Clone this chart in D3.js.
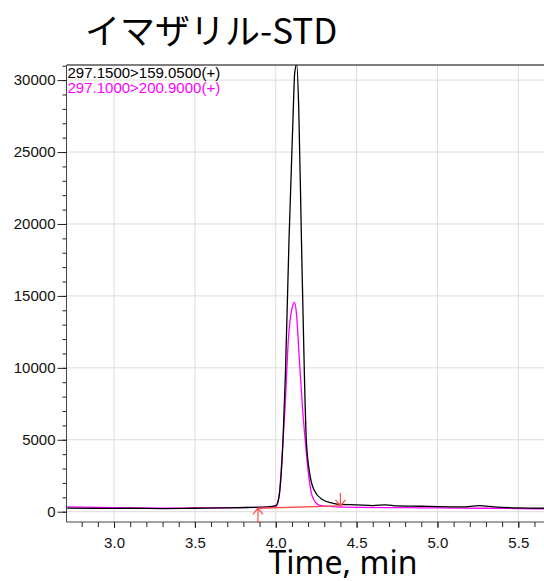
<!DOCTYPE html>
<html>
<head>
<meta charset="utf-8">
<script src="https://cdnjs.cloudflare.com/ajax/libs/d3/7.8.5/d3.min.js"></script>
<style>
	body{margin:0;background:#fff;}
	svg{display:block;}
</style>
</head>
<body>
<svg width="544" height="581"></svg>
<script>
//chart text
var title = "イマザリル-STD";
var xTitle = "Time, min";
var legendLabels = ["297.1500>159.0500(+)","297.1000>200.9000(+)"];
var seriesColors = ["#000000","#ff00ff"];

//ticks
var yTicks = [0,5000,10000,15000,20000,25000,30000];
var xTicks = [3.0,3.5,4.0,4.5,5.0,5.5];

//trace 1 (black)
var blackTime = [2.71,2.9,3.1,3.3,3.5,3.7,3.85,3.95,4.0,4.02,4.045,4.06,4.082,4.109,4.117,4.13,4.142,4.159,4.177,4.189,4.21,4.237,4.288,4.35,4.4,4.5,4.6,4.68,4.75,4.9,5.0,5.15,5.26,5.35,5.5,5.66];
var blackInt = [250,230,240,220,240,260,300,330,420,1040,4980,9620,18880,28145,30465,31100,28145,18880,9620,4980,2670,1510,850,600,500,480,430,480,400,380,350,330,420,330,260,240];

//trace 2 (magenta)
var pinkTime = [2.71,2.9,3.1,3.3,3.5,3.7,3.9,4.0,4.02,4.039,4.058,4.078,4.103,4.117,4.128,4.145,4.165,4.182,4.202,4.227,4.268,4.35,4.5,4.8,5.0,5.3,5.5,5.66];
var pinkInt = [330,300,260,240,260,280,300,340,1000,3820,7300,11930,14250,14550,13790,10770,7300,4980,2670,1040,465,350,300,280,260,240,220,200];

//integration baseline (start, end)
var baseTime = [3.89,4.40];
var baseInt = [240,400];

var chart = {left:66.5, right:544, top:65, bottom:522};
var svg = d3.select('svg');
var tickFont = '"Liberation Sans",Arial,sans-serif';

var x = d3.scaleLinear().domain([2.706,5.659]).range([chart.left,chart.right]);
var y = d3.scaleLinear().domain([-715,31050]).range([chart.bottom,chart.top]);

svg.append('defs').append('clipPath').attr('id','plotclip').append('rect')
	.attr('x',chart.left).attr('y',chart.top).attr('width',chart.right-chart.left).attr('height',chart.bottom-chart.top);

//grid
svg.append('g').selectAll('line').data(yTicks).enter().append('line')
	.attr('x1',chart.left).attr('x2',chart.right).attr('y1',function(d){return y(d)}).attr('y2',function(d){return y(d)})
	.attr('stroke','#dcdcdc').attr('stroke-width',1);
svg.append('g').selectAll('line').data(xTicks).enter().append('line')
	.attr('x1',function(d){return x(d)}).attr('x2',function(d){return x(d)}).attr('y1',chart.top).attr('y2',chart.bottom)
	.attr('stroke','#dcdcdc').attr('stroke-width',1);

//minor ticks
var yMinor = d3.range(0,31001,1000);
var xMinor = d3.range(2.8,5.66,0.1);
svg.append('g').attr('transform','translate('+chart.left+',0)')
	.call(d3.axisLeft(y).tickValues(yMinor).tickSize(4).tickFormat(''))
	.call(function(g){g.select('.domain').remove()})
	.selectAll('line').attr('stroke','#222');
svg.append('g').attr('transform','translate(0,'+chart.bottom+')')
	.call(d3.axisBottom(x).tickValues(xMinor).tickSize(5).tickFormat(''))
	.call(function(g){g.select('.domain').remove()})
	.selectAll('line').attr('stroke','#222');

//major axes
var yAxis = svg.append('g').attr('transform','translate('+chart.left+',0)')
	.call(d3.axisLeft(y).tickValues(yTicks).tickSize(9).tickPadding(2).tickFormat(d3.format('d')));
yAxis.select('.domain').attr('stroke','#444').attr('d','M0,'+chart.top+'V'+chart.bottom);
yAxis.selectAll('.tick line').attr('stroke','#222');
yAxis.selectAll('.tick text').attr('fill','#111').style('font-family',tickFont).style('font-size','15px');

var xAxis = svg.append('g').attr('transform','translate(0,'+chart.bottom+')')
	.call(d3.axisBottom(x).tickValues(xTicks).tickSize(6).tickPadding(9).tickFormat(d3.format('.1f')));
xAxis.select('.domain').attr('stroke','#444').attr('d','M'+chart.left+',0H'+chart.right);
xAxis.selectAll('.tick line').attr('stroke','#222');
xAxis.selectAll('.tick text').attr('fill','#111').style('font-family',tickFont).style('font-size','15px');

//top frame
svg.append('line').attr('x1',chart.left).attr('x2',chart.right).attr('y1',chart.top).attr('y2',chart.top)
	.attr('stroke','#555').attr('stroke-width',1.5);

//traces
var line = d3.line().x(function(d){return x(d[0])}).y(function(d){return y(d[1])}).curve(d3.curveMonotoneX);
var plot = svg.append('g').attr('clip-path','url(#plotclip)');
plot.append('path').datum(d3.zip(pinkTime,pinkInt)).attr('d',line)
	.attr('fill','none').attr('stroke',seriesColors[1]).attr('stroke-width',1.3);
plot.append('path').datum(d3.zip(blackTime,blackInt)).attr('d',line)
	.attr('fill','none').attr('stroke',seriesColors[0]).attr('stroke-width',1.3);

//integration baseline + arrows
var red = '#ff4a4a';
plot.append('line').attr('x1',x(baseTime[0])).attr('y1',y(baseInt[0])).attr('x2',x(baseTime[1])).attr('y2',y(baseInt[1]))
	.attr('stroke',red).attr('stroke-width',1.3);
var ax = x(baseTime[0]), ay = y(baseInt[0]);
svg.append('path').attr('d','M'+ax+','+(chart.bottom+1)+'V'+ay+'M'+(ax-5)+','+(ay+6)+'L'+ax+','+ay+'L'+(ax+5)+','+(ay+6))
	.attr('fill','none').attr('stroke',red).attr('stroke-width',1.2);
var bx = x(baseTime[1]), by = y(baseInt[1]);
svg.append('path').attr('d','M'+bx+','+(by-13)+'V'+by+'M'+(bx-5)+','+(by-6)+'L'+bx+','+by+'L'+(bx+5)+','+(by-6))
	.attr('fill','none').attr('stroke',red).attr('stroke-width',1.2);

//legend
svg.append('g').selectAll('text').data(legendLabels).enter().append('text')
	.attr('x',chart.left+1).attr('y',function(d,i){return chart.top+13+i*15})
	.attr('fill',function(d,i){return seriesColors[i]})
	.style('font-family',tickFont).style('font-size','15px')
	.text(function(d){return d});

//titles
svg.append('text').attr('x',85).attr('y',44)
	.style('font-family','"Noto Sans CJK JP",sans-serif').style('font-size','35px').attr('fill','#000')
	.text(title);
svg.append('text').attr('x',343).attr('y',574).attr('text-anchor','middle')
	.style('font-family','"Noto Sans","Open Sans",sans-serif').style('font-size','32px').attr('fill','#000')
	.text(xTitle);
</script>
</body>
</html>
